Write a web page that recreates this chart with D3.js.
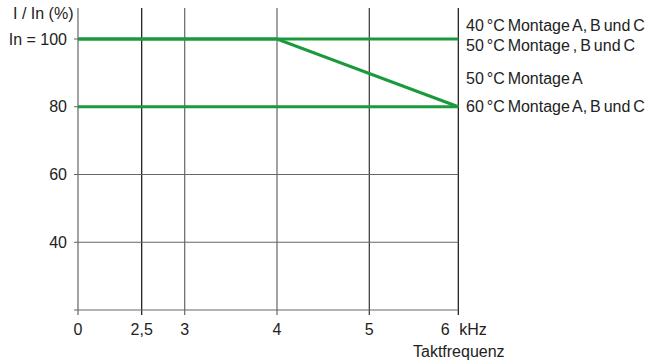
<!DOCTYPE html>
<html>
<head>
<meta charset="utf-8">
<script src="https://cdn.jsdelivr.net/npm/d3@7"></script>
<style>
  body { margin: 0; background: #fff; }
  text { font-family: "Liberation Sans", Arial, sans-serif; font-size: 16px; fill: #222; }
</style>
</head>
<body>
<div id="chart"></div>
<script>
// values
const xTicks = [0, 2.5, 3, 4, 5, 6];
const xTickLabels = ["0", "2,5", "3", "4", "5", "6"];
const yTicks = [40, 60, 80, 100];
const yTickLabels = ["40", "60", "80", "In = 100"];

// derating curves (kHz, % of In)
const curve40 = [[0, 100], [6, 100]];
const curve50A = [[0, 100], [4, 100], [6, 80]];
const curve60 = [[0, 80], [6, 80]];

const curveLabels = ["40 \u00B0C Montage A, B und C", "50 \u00B0C Montage , B und C", "50 \u00B0C Montage A", "60 \u00B0C Montage A, B und C"];
const curveLabelAt = [104, 98, 88.5, 80];

const W = 648, H = 361;
const svg = d3.select("#chart").append("svg")
    .attr("width", W)
    .attr("height", H);

// the x axis is not evenly spaced in the original, so a piecewise scale
const x = d3.scaleLinear()
    .domain(xTicks)
    .range([78, 141.7, 184.7, 277, 369.3, 458.3]);

const y = d3.scaleLinear()
    .domain([20, 100])
    .range([310, 39]);

const yTop = 8;

// vertical grid lines
svg.selectAll(".vgrid")
  .data(xTicks)
  .enter()
  .append("line")
    .attr("x1", d => x(d))
    .attr("x2", d => x(d))
    .attr("y1", yTop)
    .attr("y2", y(20) + 5)
    .attr("stroke", d => (d == 2.5 || d == 6) ? "#111" : (d == 5 ? "#333" : "#666"))
    .attr("stroke-width", 1.2);

// horizontal grid lines
svg.selectAll(".hgrid")
  .data([20].concat(yTicks))
  .enter()
  .append("line")
    .attr("x1", x(0) - 4)
    .attr("x2", x(6))
    .attr("y1", d => y(d))
    .attr("y2", d => y(d))
    .attr("stroke", "#666")
    .attr("stroke-width", 1.2);

// y labels
svg.selectAll(".ylab")
  .data(yTicks)
  .enter()
  .append("text")
    .attr("x", 67)
    .attr("y", d => y(d))
    .attr("dy", "0.35em")
    .attr("text-anchor", "end")
    .text((d, i) => yTickLabels[i]);

svg.append("text")
    .attr("x", 13)
    .attr("y", 19)
    .text("I / In (%)");

// x labels (the 6 sits left of its line to make room for kHz)
svg.selectAll(".xlab")
  .data(xTicks)
  .enter()
  .append("text")
    .attr("x", d => d == 6 ? x(d) - 13 : x(d))
    .attr("y", 335)
    .attr("text-anchor", "middle")
    .text((d, i) => xTickLabels[i]);

svg.append("text")
    .attr("x", x(6) + 1)
    .attr("y", 335)
    .text("kHz");

svg.append("text")
    .attr("x", 413)
    .attr("y", 357)
    .text("Taktfrequenz");

// curves
const line = d3.line()
    .x(d => x(d[0]))
    .y(d => y(d[1]));

svg.selectAll(".curve")
  .data([curve40, curve50A, curve60])
  .enter()
  .append("path")
    .attr("d", line)
    .attr("fill", "none")
    .attr("stroke", "#1a9a3c")
    .attr("stroke-width", 3);

// labels right of the chart
svg.selectAll(".clab")
  .data(curveLabelAt)
  .enter()
  .append("text")
    .attr("x", 466)
    .attr("y", d => y(d))
    .attr("dy", "0.35em")
    .style("word-spacing", "-1.5px")
    .text((d, i) => curveLabels[i]);
</script>
</body>
</html>
